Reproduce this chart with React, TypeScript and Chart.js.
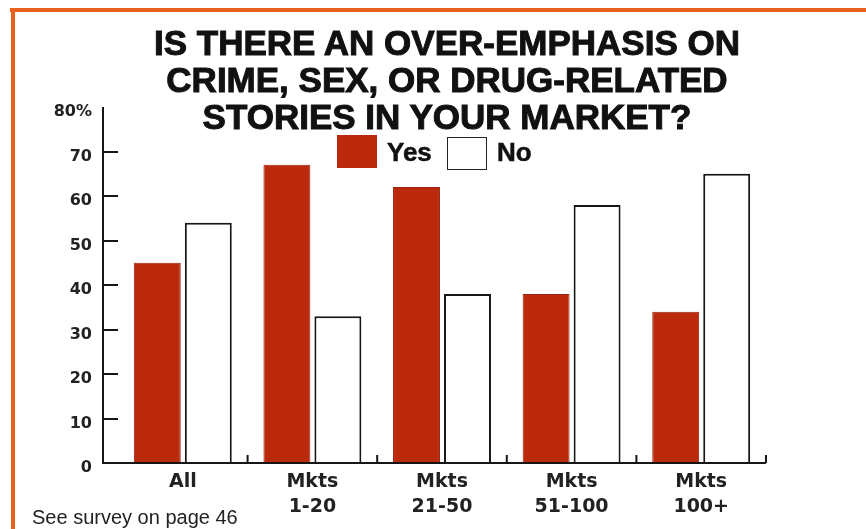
import React, { useEffect, useRef } from "react";
import { Chart, registerables } from "chart.js";

Chart.register(...registerables);

const categories: (string | string[])[] = ["All", ["Mkts", "1-20"], ["Mkts", "21-50"], ["Mkts", "51-100"], ["Mkts", "100+"]];
const yesValues = [45, 67, 62, 38, 34];
const noValues = [54, 33, 38, 58, 65];
const seriesNames = ["Yes", "No"];
const titleLines = ["IS THERE AN OVER-EMPHASIS ON", "CRIME, SEX, OR DRUG-RELATED", "STORIES IN YOUR MARKET?"];
const footnote = "See survey on page 46";
const yMax = 80;
const yStep = 10;

const RED = "#bc2a0d";
const INK = "#161616";

const axisPlugin = {
  id: "customAxes",
  afterDatasetsDraw(chart: any) {
    const { ctx, chartArea, scales } = chart;
    const x = scales.x;
    const y = scales.y;
    const axisX = chartArea.left - 15;
    const y0 = y.getPixelForValue(0);
    const yTop = y.getPixelForValue(yMax);
    ctx.save();
    ctx.strokeStyle = INK;
    ctx.lineWidth = 2;
    ctx.beginPath();
    ctx.moveTo(axisX, yTop);
    ctx.lineTo(axisX, y0 + 1);
    ctx.moveTo(axisX, y0);
    ctx.lineTo(chartArea.right, y0);
    ctx.stroke();
    const n = categories.length;
    const half = (x.getPixelForValue(1) - x.getPixelForValue(0)) / 2;
    ctx.beginPath();
    for (let i = 0; i < n; i++) {
      const bx = x.getPixelForValue(i) + half;
      ctx.moveTo(bx, y0);
      ctx.lineTo(bx, y0 - 8);
    }
    ctx.stroke();
    ctx.restore();
  },
};

export default function App() {
  const canvasRef = useRef<HTMLCanvasElement | null>(null);

  useEffect(() => {
    document.body.style.margin = "0";
    document.body.style.background = "#ffffff";
    const canvas = canvasRef.current;
    if (!canvas) return;
    const chart = new Chart(canvas, {
      type: "bar",
      data: {
        labels: categories as any,
        datasets: [
          {
            label: seriesNames[0],
            data: yesValues,
            backgroundColor: RED,
            borderColor: "#9a220b",
            borderWidth: 1,
            categoryPercentage: 0.787,
            barPercentage: 0.92,
          },
          {
            label: seriesNames[1],
            data: noValues,
            backgroundColor: "#ffffff",
            borderColor: INK,
            borderWidth: 2,
            categoryPercentage: 0.787,
            barPercentage: 0.92,
          },
        ],
      },
      options: {
        responsive: false,
        animation: false,
        devicePixelRatio: 1,
        layout: { padding: { top: 107, right: 100, left: 0, bottom: 0 } },
        plugins: {
          legend: { display: false },
          title: { display: false },
          tooltip: { enabled: false },
        },
        scales: {
          x: {
            afterFit: (s: any) => {
              s.height = 66;
            },
            grid: { display: false, drawTicks: false },
            border: { display: false },
            ticks: {
              color: "#222",
              padding: 7,
              maxRotation: 0,
              autoSkip: false,
              font: { family: "'DejaVu Sans', sans-serif", weight: "bold", size: 19, lineHeight: 1.3 },
            },
          },
          y: {
            min: 0,
            max: yMax,
            afterFit: (s: any) => {
              s.width = 118;
            },
            grid: {
              display: true,
              drawOnChartArea: false,
              drawTicks: true,
              tickLength: 15,
              lineWidth: 2,
              color: (c: any) => (c.tick && c.tick.value === yMax ? "rgba(0,0,0,0)" : INK),
            },
            border: { display: false },
            ticks: {
              stepSize: yStep,
              padding: 11,
              labelOffset: 5,
              color: "#222",
              font: { family: "'DejaVu Sans', sans-serif", weight: "bold", size: 16 },
              callback: (v: any) => (Number(v) === yMax ? `${v}%` : `${v}`),
            },
          },
        },
      },
      plugins: [axisPlugin],
    });
    return () => chart.destroy();
  }, []);

  const legendText: React.CSSProperties = {
    position: "absolute",
    fontFamily: "'Liberation Sans', Arial, sans-serif",
    fontWeight: "bold",
    fontSize: 26,
    lineHeight: "30px",
    color: "#111",
    WebkitTextStroke: "0.5px #111",
  };

  return (
    <div style={{ position: "relative", width: 866, height: 529, overflow: "hidden", background: "#ffffff" }}>
      <div style={{ position: "absolute", left: 10, top: 8, width: 856, height: 4, background: "#e8621e" }} />
      <div style={{ position: "absolute", left: 11, top: 8, width: 4, height: 521, background: "#e8621e" }} />
      <canvas ref={canvasRef} width={866} height={529} style={{ position: "absolute", left: 0, top: 0 }} />
      <div
        style={{
          position: "absolute",
          left: 47,
          top: 24,
          width: 800,
          textAlign: "center",
          fontFamily: "'Liberation Sans', Arial, sans-serif",
          fontWeight: "bold",
          fontSize: 35,
          lineHeight: "37px",
          color: "#111",
          WebkitTextStroke: "1px #111",
        }}
      >
        {titleLines.map((l, i) => (
          <div key={i}>{l}</div>
        ))}
      </div>
      <div style={{ position: "absolute", left: 337, top: 135, width: 40, height: 33, background: RED }} />
      <div style={{ ...legendText, left: 387, top: 137 }}>{seriesNames[0]}</div>
      <div
        style={{
          position: "absolute",
          left: 447,
          top: 137,
          width: 38,
          height: 31,
          background: "#fff",
          border: "1.5px solid #222",
        }}
      />
      <div style={{ ...legendText, left: 497, top: 137 }}>{seriesNames[1]}</div>
      <div
        style={{
          position: "absolute",
          left: 32,
          top: 506,
          fontFamily: "'Liberation Sans', Arial, sans-serif",
          fontSize: 20,
          lineHeight: "22px",
          color: "#222",
        }}
      >
        {footnote}
      </div>
    </div>
  );
}
